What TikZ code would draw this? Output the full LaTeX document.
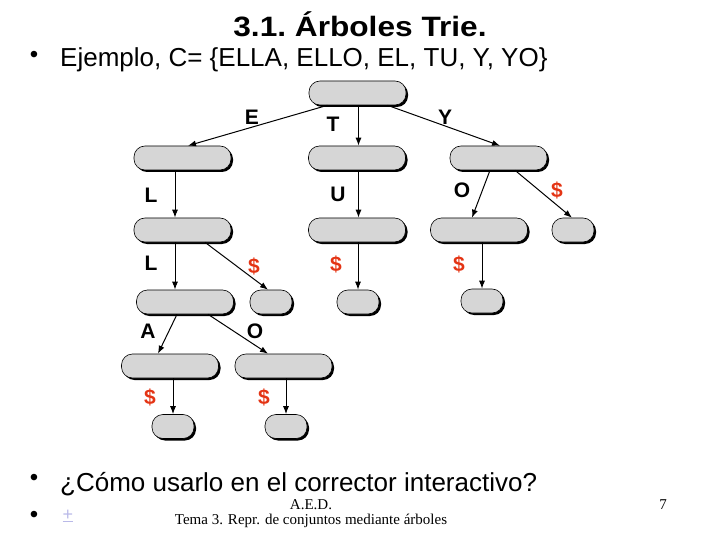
\documentclass[tikz,border=0pt]{standalone}
\usepackage{fontspec}
\setmainfont{Liberation Sans}
\newfontfamily\footfont{Liberation Serif}
\usepackage{xcolor}
\usepackage{tikz}
\usetikzlibrary{arrows.meta,positioning,shadows}
\definecolor{nodefill}{RGB}{214,214,214}
\definecolor{endmark}{RGB}{228,52,20}
\definecolor{linkcolor}{RGB}{185,185,232}

\begin{document}
\begin{tikzpicture}[
    x=1pt, y=-1pt,
    trie/.style={draw=black, fill=nodefill, rounded corners=11pt, line width=0.6pt,
      inner sep=0pt, minimum height=24pt,
      drop shadow={shadow xshift=2pt, shadow yshift=-2pt, fill=black, opacity=1}},
    wide/.style={trie, minimum width=97pt},
    narrow/.style={trie, minimum width=42pt},
    arrow/.style={-{Latex[length=8pt,width=6pt]}, draw=black, line width=1pt},
    lbl/.style={font=\fontsize{21}{21}\selectfont\bfseries, inner sep=0pt},
    dollar/.style={lbl, text=endmark},
    bullet/.style={font=\fontsize{24}{24}\selectfont, inner sep=0pt}
  ]
    \useasboundingbox (0,0) rectangle (720,540);

    \node[font=\fontsize{28}{28}\selectfont\bfseries] (title) at (360,24)
      {\scalebox{1.13}[1]{3.1.~Árboles Trie.}};
    \node[bullet] (b1) at (34,57) {•};
    \node[anchor=base west, inner sep=0pt, font=\fontsize{26}{26}\selectfont] (example) at (60,67)
      {Ejemplo, C= \{ELLA, ELLO, EL, TU, Y, YO\}};

    \node[wide] (root) at (357.5,93) {};
    \node[wide] (e) at (182.5,158) {};
    \node[wide] (t) at (357,158) {};
    \node[wide] (y) at (498.5,158) {};
    \node[wide] (el) at (182.5,230) {};
    \node[wide] (tu) at (357,230) {};
    \node[wide] (yo) at (479,230) {};
    \node[narrow] (yend) at (573,230) {};
    \node[wide] (ell) at (185,302) {};
    \node[narrow] (elend) at (271,302) {};
    \node[narrow] (tuend) at (358,302) {};
    \node[narrow] (yoend) at (482,301) {};
    \node[wide] (ella) at (170,366) {};
    \node[wide] (ello) at (283.5,366) {};
    \node[narrow] (ellaend) at (173,426.5) {};
    \node[narrow] (elloend) at (286,426.5) {};

    \draw[arrow] ([xshift=-30pt]root.south) -- ([xshift=5.5pt]e.north);
    \draw[arrow] ([xshift=1pt]root.south) -- ([xshift=1.5pt]t.north);
    \draw[arrow] ([xshift=30pt]root.south) -- ([xshift=1.5pt]y.north);
    \draw[arrow] ([xshift=-7.5pt]e.south) -- ([xshift=-7.5pt]el.north);
    \draw[arrow] ([xshift=1.5pt]t.south) -- ([xshift=1.5pt]tu.north);
    \draw[arrow] ([xshift=-8.5pt]y.south) -- ([xshift=-7pt]yo.north);
    \draw[arrow] ([xshift=16.5pt]y.south) -- ([xshift=-1pt]yend.north);
    \draw[arrow] ([xshift=-7.5pt]el.south) -- ([xshift=-10pt]ell.north);
    \draw[arrow] ([xshift=22.5pt]el.south) -- ([xshift=-3pt]elend.north);
    \draw[arrow] ([xshift=1pt]tu.south) -- (tuend.north);
    \draw[arrow] ([xshift=3pt]yo.south) -- (yoend.north);
    \draw[arrow] ([xshift=-8pt]ell.south) -- ([xshift=-12pt]ella.north);
    \draw[arrow] ([xshift=23pt]ell.south) -- ([xshift=-15.5pt]ello.north);
    \draw[arrow] ([xshift=3pt]ella.south) -- (ellaend.north);
    \draw[arrow] ([xshift=2.5pt]ello.south) -- (elloend.north);

    \node[lbl] (le) at (252,117) {E};
    \node[lbl] (lt) at (333,124) {T};
    \node[lbl] (ly) at (445,117) {Y};
    \node[lbl] (lel) at (151,195) {L};
    \node[lbl] (ltu) at (338,194) {U};
    \node[lbl] (lyo) at (462,190) {O};
    \node[dollar] (lyend) at (557,190) {\$};
    \node[lbl] (lell) at (151,263) {L};
    \node[dollar] (lelend) at (254,266) {\$};
    \node[dollar] (ltuend) at (336,264) {\$};
    \node[dollar] (lyoend) at (459,264) {\$};
    \node[lbl] (lella) at (148,331) {A};
    \node[lbl] (lello) at (255,331) {O};
    \node[dollar] (lellaend) at (150,397) {\$};
    \node[dollar] (lelloend) at (264,397) {\$};

    \node[bullet] (b2) at (34,480) {•};
    \node[anchor=base west, inner sep=0pt, font=\fontsize{26}{26}\selectfont] (question) at (60,491)
      {¿Cómo usarlo en el corrector interactivo?};
    \node[bullet] (b3) at (34,517) {•};
    \node[font=\fontsize{18}{18}\selectfont, text=linkcolor, inner sep=0pt] (link) at (68,516) {\underline{+}};
    \node[font=\footfont\fontsize{15}{15}\selectfont, inner sep=0pt] (aed) at (311,505) {A.E.D.};
    \node[font=\footfont\fontsize{15}{15}\selectfont, inner sep=0pt] (tema) at (311,521)
      {Tema 3. Repr. de conjuntos mediante árboles};
    \node[font=\footfont\fontsize{15}{15}\selectfont, inner sep=0pt] (page) at (663,505) {7};
  \end{tikzpicture}
\end{document}
